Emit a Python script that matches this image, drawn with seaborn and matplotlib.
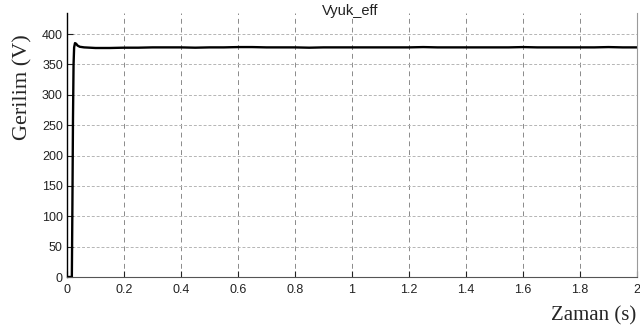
import matplotlib
matplotlib.use("Agg")
import matplotlib.pyplot as plt
import seaborn as sns
import pandas as pd

# data
time_s = [0.0, 0.010, 0.017, 0.019, 0.021, 0.023, 0.025, 0.028, 0.032, 0.037, 0.045,
          0.06, 0.08, 0.10, 0.15, 0.20, 0.25, 0.30, 0.35, 0.40, 0.45, 0.50, 0.55,
          0.60, 0.65, 0.70, 0.75, 0.80, 0.85, 0.90, 0.95, 1.00, 1.05, 1.10, 1.15,
          1.20, 1.25, 1.30, 1.35, 1.40, 1.45, 1.50, 1.55, 1.60, 1.65, 1.70, 1.75,
          1.80, 1.85, 1.90, 1.95, 2.00]
voltage_v = [0, 0, 0, 120, 260, 350, 378, 385, 384, 381, 379,
             378, 377.5, 377, 377, 377.5, 377.5, 378, 378, 378, 377.5, 378, 378,
             378.5, 378.5, 378, 378, 378, 377.5, 378, 378, 378, 378, 378, 378,
             378, 378.5, 378, 378, 378, 378, 378, 378, 378.5, 378, 378, 378,
             378, 378, 378.5, 378, 378]

x_ticks = [0, 0.2, 0.4, 0.6, 0.8, 1.0, 1.2, 1.4, 1.6, 1.8, 2.0]
x_tick_labels = ["0", "0.2", "0.4", "0.6", "0.8", "1", "1.2", "1.4", "1.6", "1.8", "2"]
y_ticks = [0, 50, 100, 150, 200, 250, 300, 350, 400]

title_text = "Vyuk_eff"
x_label = "Zaman (s)"
y_label = "Gerilim (V)"

sns.set_style("white")
plt.rcParams["font.family"] = ["Liberation Sans", "DejaVu Sans"]

df = pd.DataFrame({"t": time_s, "v": voltage_v})

fig = plt.figure(figsize=(6.4, 3.33), dpi=100)
ax = fig.add_axes([67 / 640, 1 - 277 / 333, 570 / 640, 264 / 333])

sns.lineplot(data=df, x="t", y="v", ax=ax, color="black", linewidth=1.7, sort=False)

ax.set_xlim(0, 2)
ax.set_ylim(0, 434.6)
ax.set_xticks(x_ticks)
ax.set_xticklabels(x_tick_labels)
ax.set_yticks(y_ticks)
ax.set_xlabel("")
ax.set_ylabel("")

# grid
for xt in x_ticks[1:-1]:
    ax.axvline(xt, color="#8a8a8a", lw=0.7, ls=(0, (5, 4)), zorder=0)
for yt in y_ticks[1:]:
    ax.axhline(yt, color="#b5b5b5", lw=0.7, ls=(0, (3, 2)), zorder=0)

ax.tick_params(axis="both", direction="in", length=4, width=0.8, labelsize=9,
               colors="#222222", pad=3, left=True, bottom=True)
ax.tick_params(axis="x", pad=5)
ax.spines["top"].set_visible(False)
ax.spines["right"].set_color("#9a9a9a")
ax.spines["right"].set_linewidth(0.8)
ax.spines["bottom"].set_color("#555555")
ax.spines["bottom"].set_linewidth(0.8)
ax.spines["left"].set_color("black")
ax.spines["left"].set_linewidth(1.0)

fig.text(350 / 640, 1 - 15 / 333, title_text, ha="center", va="baseline",
         fontsize=10.5, color="#222222")
fig.text(636 / 640, 1 - 316 / 333, x_label, ha="right", va="center",
         fontsize=15, family=["Liberation Serif", "DejaVu Serif"])
fig.text(23 / 640, 1 - 87 / 333, y_label, ha="center", va="center", rotation=90,
         fontsize=16, family=["Liberation Serif", "DejaVu Serif"])

fig.savefig("out.png", dpi=100)
